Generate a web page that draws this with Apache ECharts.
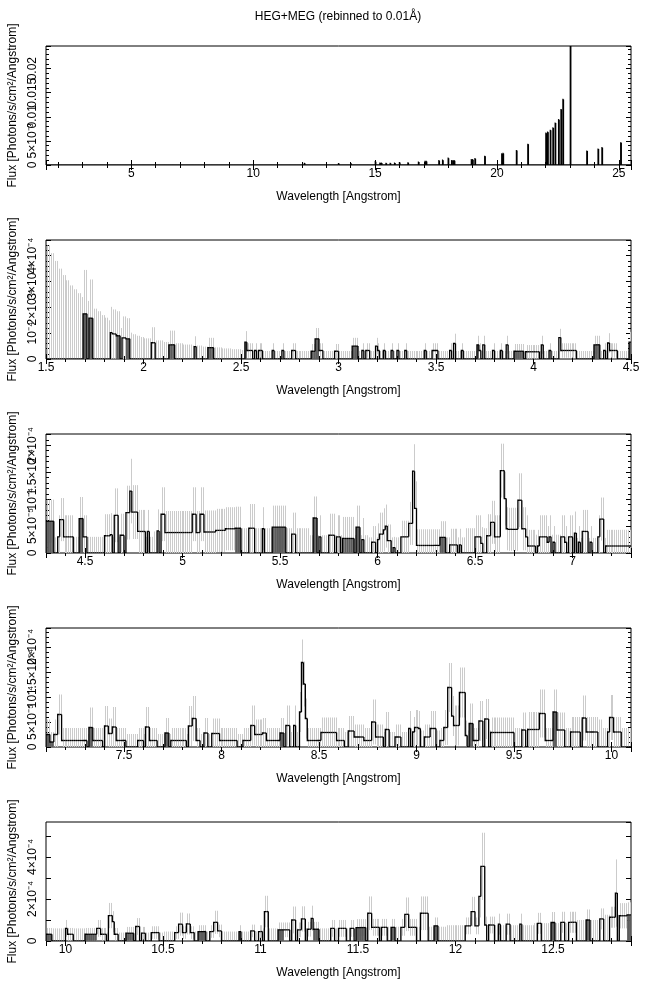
<!DOCTYPE html>
<html><head><meta charset="utf-8">
<script src="https://cdn.jsdelivr.net/npm/echarts@6/dist/echarts.min.js"></script>
<style>html,body{margin:0;padding:0;background:#fff}#c{width:650px;height:991px}</style>
</head><body><div id="c"></div>
<script>
const chartTitle = 'HEG+MEG (rebinned to 0.01\u00C5)';
const xTitle = 'Wavelength [Angstrom]';
const yTitle = 'Flux [Photons/s/cm\u00B2/Angstrom]';

// ---- Panel 1 (flux in units of 1e-3) : [binStart, binEnd, flux]
const p1Range = [1.5, 25.5];
const p1YMax = 24.7;
const p1YTicks = [0, 5, 10, 15, 20];
const p1YLabels = ['0', '5\u00D710\u207B\u00B3', '0.01', '0.015', '0.02'];
const p1Seg = [
 [12.10,12.11,0.35],[13.50,13.51,0.3],[14.00,14.01,0.3],[15.01,15.02,0.7],[15.20,15.21,0.4],
 [15.26,15.27,0.4],[15.45,15.46,0.35],[15.62,15.63,0.35],[15.80,15.81,0.4],[16.00,16.01,0.5],
 [16.35,16.36,0.45],[16.78,16.79,0.6],[17.05,17.06,0.75],[17.10,17.11,0.75],[17.62,17.63,0.9],
 [17.77,17.78,1.0],[18.00,18.01,1.4],[18.14,18.15,0.9],[18.20,18.21,0.9],[18.25,18.26,0.9],
 [18.95,18.96,1.1],[19.00,19.01,1.1],[19.10,19.11,1.3],[19.50,19.51,1.8],[20.20,20.21,2.3],
 [20.25,20.26,2.4],[20.80,20.81,3.0],[21.27,21.28,4.3],[22.01,22.02,6.6],[22.08,22.09,6.8],
 [22.19,22.20,7.2],[22.30,22.31,7.7],[22.39,22.40,8.7],[22.53,22.54,9.4],[22.63,22.64,11.5],
 [22.71,22.72,13.6],[23.01,23.02,24.7],[23.69,23.70,2.9],[24.15,24.16,3.3],[24.31,24.32,3.6],
 [25.08,25.09,4.6]
];

// ---- Panel 2 (flux in units of 1e-5) : [binStart, binEnd, flux, error, darkFill]
const p2Range = [1.5, 4.5];
const p2YMax = 46.1;
const p2YTicks = [0, 10, 20, 30, 40];
const p2YLabels = ['0', '10\u207B\u2074', '2\u00D710\u207B\u2074', '3\u00D710\u207B\u2074', '4\u00D710\u207B\u2074'];
const p2Seg = [
 [1.69,1.70,17.5,17,1],[1.72,1.73,15.8,15,1],[1.83,1.83,10.2,10,0],[1.84,1.85,9.7,9.5,0],
 [1.86,1.87,9.0,9.5,1],[1.89,1.90,8.2,8.3,0],[1.91,1.92,7.8,8,1],[2.04,2.05,6.3,6,0],
 [2.13,2.15,5.5,5.5,1],[2.26,2.26,4.8,4,0],[2.33,2.35,4.4,3.8,1],[2.52,2.52,6.5,4.3,1],
 [2.53,2.55,3.3,2.8,0],[2.57,2.57,3.3,2.8,0],[2.59,2.60,3.3,2.8,0],[2.66,2.66,3.3,2.8,0],
 [2.71,2.71,3.3,2.8,0],[2.76,2.77,3.3,2.8,0],[2.86,2.87,3.0,2.8,1],[2.88,2.89,7.8,4.2,1],
 [2.90,2.91,3.3,2.8,0],[2.98,2.99,3.0,2.8,0],[3.07,3.09,5.0,3.2,1],[3.12,3.12,3.3,2.8,0],
 [3.14,3.15,3.3,2.8,0],[3.19,3.19,5.0,3.2,0],[3.20,3.20,3.3,2.8,0],[3.23,3.23,3.3,2.8,0],
 [3.27,3.27,3.3,2.8,0],[3.30,3.30,3.3,2.8,0],[3.34,3.34,3.3,2.8,0],[3.44,3.44,3.3,2.8,0],
 [3.48,3.50,3.3,2.8,0],[3.57,3.57,3.3,2.8,0],[3.59,3.59,6.0,3.8,0],[3.63,3.63,3.3,2.8,0],
 [3.71,3.71,5.5,3.5,1],[3.72,3.72,3.3,2.8,0],[3.74,3.74,5.5,3.5,0],[3.79,3.79,3.3,2.8,0],
 [3.83,3.83,3.3,2.8,0],[3.86,3.86,5.5,3.5,0],[3.90,3.94,3.0,2.8,1],[3.96,4.02,2.8,2.6,0],
 [4.04,4.04,5.5,3.5,0],[4.08,4.08,3.3,2.8,0],[4.13,4.13,8.3,3.4,0],[4.14,4.21,3.3,2.8,0],
 [4.31,4.33,5.5,3.5,1],[4.36,4.36,3.3,2.8,0],[4.38,4.38,6.2,3.8,0],[4.39,4.42,3.3,2.8,0],
 [4.49,4.49,6.5,4,1]
];
// upper limits of empty bins : [from, to, level]
const p2Ul = [
 [1.50,1.52,44],[1.52,1.54,41],[1.54,1.56,38],[1.56,1.58,35],[1.58,1.60,32.5],[1.60,1.62,30.5],
 [1.62,1.64,28.5],[1.64,1.66,27],[1.66,1.68,25.5],[1.68,1.70,24],[1.70,1.72,22.5],[1.72,1.74,21],
 [1.74,1.76,19.5],[1.76,1.78,18.5],[1.78,1.80,17],[1.80,1.82,16],[1.82,1.84,15],[1.84,1.86,14],
 [1.86,1.88,13],[1.88,1.90,12],[1.90,1.92,11],[1.92,1.94,10.2],[1.94,1.96,9.6],[1.96,1.98,9.0],
 [1.98,2.00,8.5],[2.00,2.05,8.0],[2.05,2.10,7.2],[2.10,2.15,6.6],[2.15,2.20,6.1],[2.20,2.25,5.6],
 [2.25,2.30,5.2],[2.30,2.35,4.8],[2.35,2.40,4.5],[2.40,2.45,4.1],[2.45,2.50,3.8],[2.50,2.55,3.5],
 [2.55,4.50,3.1]
];

// ---- Panel 3 (1e-5)
const p3Range = [4.3, 7.3];
const p3YMax = 22.1;
const p3YTicks = [0, 5, 10, 15, 20];
const p3YLabels = ['0', '5\u00D710\u207B\u2075', '10\u207B\u2074', '1.5\u00D710\u207B\u2074', '2\u00D710\u207B\u2074'];
const p3Seg = [
 [4.30,4.33,5.9,4,1],[4.36,4.36,3.0,4,0],[4.37,4.38,6.2,4,0],[4.39,4.43,3.0,4,0],[4.47,4.48,6.4,4,1],
 [4.49,4.50,3.0,4,0],[4.60,4.62,3.2,4,0],[4.63,4.63,3.4,4,0],[4.65,4.66,7.0,5,0],[4.68,4.69,3.3,4,0],
 [4.71,4.72,7.5,5,0],[4.73,4.73,11.5,6,0],[4.74,4.76,7.6,5,0],[4.77,4.80,4.0,4,0],[4.82,4.82,4.0,4,0],
 [4.87,4.87,4.1,4,0],[4.89,4.90,7.2,5,0],[4.91,5.04,3.8,4,0],[5.05,5.06,7.2,5,0],[5.07,5.08,3.8,4,0],
 [5.09,5.10,7.2,5,0],[5.11,5.16,3.9,4,0],[5.17,5.21,4.2,4,0],[5.22,5.26,4.5,4,0],[5.27,5.29,4.6,4,1],
 [5.34,5.36,4.6,4.5,0],[5.41,5.41,4.5,4,0],[5.46,5.52,4.8,4,1],[5.56,5.57,3.5,4,0],[5.67,5.68,6.5,4,1],
 [5.70,5.70,3.0,4,0],[5.75,5.77,3.3,4,0],[5.79,5.80,3.0,4,0],[5.82,5.87,2.7,4,1],[5.89,5.90,4.8,4,1],
 [5.92,5.92,2.5,4,0],[5.97,5.98,2.0,3,0],[6.00,6.00,2.5,3,0],[6.01,6.02,3.5,4,0],[6.03,6.03,4.3,4,0],
 [6.04,6.04,5.0,4,0],[6.05,6.06,2.3,3,0],[6.08,6.08,1.0,2,0],[6.12,6.15,3.0,3,0],[6.16,6.17,5.5,4,0],
 [6.18,6.18,15.2,5,0],[6.19,6.19,8.3,5,0],[6.20,6.31,1.4,3,0],[6.32,6.34,2.9,3,1],[6.37,6.40,1.5,3,0],
 [6.42,6.42,1.5,3,0],[6.50,6.52,3.0,4,0],[6.53,6.53,1.8,3,0],[6.56,6.57,3.2,4,0],[6.58,6.59,5.7,4,0],
 [6.60,6.62,3.0,4,0],[6.63,6.64,15.3,5,0],[6.65,6.65,10.1,5,0],[6.66,6.66,4.5,4,0],[6.67,6.71,4.4,4,0],
 [6.72,6.73,9.8,5,0],[6.74,6.75,4.5,4,0],[6.76,6.76,3.0,4,0],[6.77,6.80,1.3,3,0],[6.82,6.82,1.3,3,0],
 [6.83,6.86,3.0,4,0],[6.87,6.87,2.0,3,0],[6.88,6.88,3.0,4,0],[6.90,6.90,2.0,3,0],[6.94,6.95,3.0,4,0],
 [6.96,6.96,2.0,3,0],[6.98,6.99,3.0,4,0],[7.01,7.01,3.7,4,0],[7.03,7.03,2.0,3,0],[7.05,7.07,4.0,4,0],
 [7.09,7.09,2.0,3,0],[7.13,7.13,3.0,4,0],[7.14,7.15,6.3,4,0],[7.17,7.29,1.3,3,0]
];
const p3Ul = [
 [4.30,4.45,2.9],[4.45,4.85,3.0],[4.85,5.00,4.0],[5.00,5.65,4.6],[5.65,5.95,3.3],
 [5.95,6.45,2.9],[6.45,6.60,4.6],[6.60,6.95,3.4],[6.95,7.30,2.8]
];

// ---- Panel 4 (1e-5)
const p4Range = [7.1, 10.1];
const p4YMax = 23.8;
const p4YTicks = [0, 5, 10, 15, 20];
const p4YLabels = ['0', '5\u00D710\u207B\u2075', '10\u207B\u2074', '1.5\u00D710\u207B\u2074', '2\u00D710\u207B\u2074'];
const p4Seg = [
 [7.10,7.11,2.5,3,1],[7.12,7.13,1.0,2,1],[7.14,7.15,2.5,3,0],[7.16,7.17,6.5,4,0],[7.18,7.30,1.3,2.5,0],
 [7.32,7.33,3.9,4,1],[7.34,7.38,1.3,2.5,0],[7.40,7.41,4.2,4,0],[7.42,7.43,2.7,3,0],[7.44,7.45,4.0,4,0],
 [7.46,7.50,1.3,2.5,0],[7.57,7.59,1.3,2.5,0],[7.61,7.62,4.0,4,0],[7.63,7.66,1.3,2.5,0],[7.71,7.72,2.8,3,1],
 [7.74,7.81,1.3,2.5,0],[7.83,7.84,4.2,4,0],[7.85,7.86,5.7,4.5,0],[7.87,7.88,1.3,2.5,0],[7.91,7.92,2.8,3,0],
 [7.95,7.98,2.7,3,0],[7.99,8.07,1.3,2.5,0],[8.11,8.14,1.3,2.5,0],[8.15,8.16,4.3,4,0],[8.17,8.20,2.5,3,0],
 [8.21,8.22,2.8,3,0],[8.23,8.29,1.3,2.5,0],[8.30,8.31,2.8,3,1],[8.33,8.34,4.3,4,0],[8.37,8.37,4.3,4,0],
 [8.40,8.40,7.0,4,0],[8.41,8.41,16.9,4.6,0],[8.42,8.42,12.6,4.5,0],[8.43,8.43,5.7,4,0],[8.44,8.50,1.3,2.5,0],
 [8.51,8.58,2.9,3,0],[8.59,8.62,1.3,2.5,0],[8.65,8.67,3.2,3,0],[8.68,8.72,2.0,2.5,0],[8.73,8.76,1.3,2.5,0],
 [8.77,8.78,5.0,4.5,0],[8.79,8.82,2.0,2.5,0],[8.84,8.85,3.5,3.5,0],[8.89,8.91,2.0,2.5,0],[8.96,8.96,3.7,3.5,0],
 [8.98,8.98,3.0,3,0],[8.99,9.00,3.9,3.5,0],[9.01,9.01,3.7,3.5,0],[9.04,9.06,2.0,2.5,0],[9.07,9.09,3.7,3.5,0],
 [9.12,9.13,1.3,2.5,0],[9.14,9.15,3.9,3.5,0],[9.16,9.17,11.9,4.9,0],[9.18,9.18,6.2,4,0],[9.19,9.21,4.3,4,0],
 [9.22,9.24,10.9,5,0],[9.25,9.25,2.3,3,0],[9.27,9.28,4.7,4,1],[9.29,9.31,1.3,2.5,0],[9.32,9.33,5.2,4,0],
 [9.35,9.36,5.6,4,0],[9.38,9.49,2.9,3,0],[9.54,9.55,3.4,3.5,0],[9.57,9.62,3.5,3.5,0],[9.63,9.65,6.7,4.8,0],
 [9.66,9.69,1.3,2.5,0],[9.70,9.71,7.0,4.5,1],[9.72,9.75,3.4,3.5,0],[9.79,9.83,3.0,3,0],[9.85,9.86,5.8,4.5,0],
 [9.87,9.92,3.0,3,0],[9.98,9.98,3.0,3,0],[9.99,10.00,5.9,4.5,0],[10.01,10.04,3.0,3,0]
];
const p4Ul = [
 [7.10,8.30,2.6],[8.30,9.00,3.0],[9.00,9.40,3.3],[9.40,9.80,3.8],[9.80,9.95,5.5],[9.95,10.10,3.8]
];

// ---- Panel 5 (1e-5)
const p5Range = [9.9, 12.9];
const p5YMax = 56.6;
const p5YTicks = [0, 20, 40];
const p5YLabels = ['0', '2\u00D710\u207B\u2074', '4\u00D710\u207B\u2074'];
const p5Seg = [
 [9.90,9.92,3.2,3,1],[10.00,10.00,6.0,4,0],[10.01,10.03,3.2,3,0],[10.10,10.15,3.2,3,1],[10.16,10.17,6.0,4,0],
 [10.18,10.20,3.2,3,0],[10.22,10.23,12.1,6,0],[10.24,10.24,9.2,5,0],[10.25,10.26,3.2,3,0],[10.31,10.34,3.7,3,1],
 [10.36,10.37,6.9,4,0],[10.39,10.40,3.7,3,0],[10.44,10.47,4.0,3,0],[10.56,10.57,4.0,3,0],[10.58,10.59,8.0,5.5,0],
 [10.60,10.61,4.0,3,0],[10.62,10.63,8.1,5,0],[10.64,10.65,4.0,3,0],[10.68,10.71,4.5,3,1],[10.74,10.75,4.5,3,0],
 [10.76,10.77,8.9,5.5,0],[10.78,10.79,4.8,3,0],[10.89,10.89,4.5,3,1],[10.95,10.96,4.8,3,0],[10.99,11.00,4.5,3,0],
 [11.02,11.03,14.0,7.5,0],[11.09,11.11,5.3,3.5,1],[11.12,11.14,5.3,3.5,0],[11.16,11.17,10.0,6.4,0],[11.19,11.20,5.3,3.5,0],
 [11.21,11.22,10.5,6,0],[11.24,11.25,5.6,3.5,0],[11.26,11.26,10.8,6,0],[11.27,11.29,5.6,3.5,1],[11.36,11.37,6.0,4,0],
 [11.40,11.43,6.0,4,0],[11.46,11.47,6.0,4,0],[11.49,11.53,6.4,4,1],[11.55,11.56,13.2,8,0],[11.57,11.60,6.5,4,0],
 [11.62,11.64,6.5,4,0],[11.67,11.68,6.5,4,1],[11.72,11.73,6.5,4,0],[11.74,11.75,12.7,8,0],[11.76,11.79,6.5,4,0],
 [11.82,11.85,13.2,8,0],[11.89,11.90,7.2,4,1],[12.05,12.07,7.2,4,0],[12.08,12.09,14.0,7,0],[12.10,12.11,7.2,4,0],
 [12.12,12.12,21.2,10,0],[12.13,12.14,35.5,16,0],[12.15,12.15,7.6,4,0],[12.17,12.19,7.6,4,0],[12.22,12.22,8.0,5,0],
 [12.26,12.27,8.0,5,0],[12.33,12.33,8.0,5,0],[12.42,12.43,8.4,5,0],[12.49,12.50,8.8,5,1],[12.54,12.55,8.9,5,0],
 [12.58,12.61,8.9,5,0],[12.67,12.68,10.0,5,1],[12.74,12.75,10.5,5,0],[12.79,12.81,11.3,5,0],[12.82,12.82,22.8,16,0],
 [12.84,12.87,12.0,6,0],[12.88,12.89,12.4,6,1]
];
const p5Ul = [
 [9.90,10.10,6.0],[10.10,10.50,4.0],[10.50,11.00,4.5],[11.00,11.50,6.0],[11.50,11.95,6.8],
 [11.95,12.40,7.5],[12.40,12.60,8.5],[12.60,12.75,10.0],[12.75,12.90,12.5]
];

// ---------------- build -----------------
const FONT = '"Liberation Sans", Arial, Helvetica, sans-serif';
const panels = [
 {range:p1Range, yMax:p1YMax, yInt:5,  yTicks:p1YTicks, yLabels:p1YLabels, xStep:5,   segs:p1Seg, ul:null, yMinor:true},
 {range:p2Range, yMax:p2YMax, yInt:10, yTicks:p2YTicks, yLabels:p2YLabels, xStep:0.5, segs:p2Seg, ul:p2Ul, yMinor:true},
 {range:p3Range, yMax:p3YMax, yInt:5,  yTicks:p3YTicks, yLabels:p3YLabels, xStep:0.5, segs:p3Seg, ul:p3Ul, yMinor:true},
 {range:p4Range, yMax:p4YMax, yInt:5,  yTicks:p4YTicks, yLabels:p4YLabels, xStep:0.5, segs:p4Seg, ul:p4Ul, yMinor:true},
 {range:p5Range, yMax:p5YMax, yInt:10, yTicks:p5YTicks, yLabels:p5YLabels, xStep:0.5, segs:p5Seg, ul:p5Ul, yMinor:false}
];
const tops = [46, 240, 434, 628, 822];

function build(p) {
  const i0 = Math.round(p.range[0] * 100), i1 = Math.round(p.range[1] * 100);
  const m = new Map();
  p.segs.forEach(s => {
    for (let i = Math.round(s[0] * 100); i <= Math.round(s[1] * 100); i++) m.set(i, s);
  });
  const ulAt = i => {
    if (!p.ul) return 0;
    for (const u of p.ul) if (i >= Math.round(u[0] * 100) && i < Math.round(u[1] * 100)) return u[2];
    return 0;
  };
  const bins = [], errs = [], dark = [];
  let prev = 0;
  for (let i = i0; i < i1; i++) {
    const s = m.get(i);
    const f = s ? s[2] : 0;
    const x0 = i / 100, x1 = (i + 1) / 100;
    bins.push([x0, x1, Math.min(f, p.yMax), Math.min(prev, p.yMax)]);
    prev = f;
    if (p.ul) {
      let lo, hi;
      if (s) { lo = Math.max(0, f - s[3]); hi = f + s[3]; }
      else { lo = 0; hi = ulAt(i); }
      if (hi > 0) errs.push([(x0 + x1) / 2, lo, Math.min(hi, p.yMax)]);
    }
    if (s && s[4]) dark.push([x0, x1, f]);
  }
  return {bins, errs, dark};
}

const grids = [], xAxes = [], yAxes = [], series = [];
panels.forEach((p, k) => {
  grids.push({left: 46, width: 585, top: tops[k], height: 119, show: true,
    borderColor: '#000', borderWidth: 1, backgroundColor: 'rgba(0,0,0,0)',
    containLabel: false, outerBoundsMode: 'none'});
  const xc = {gridIndex: k, type: 'value', min: p.range[0], max: p.range[1],
    minInterval: p.xStep, maxInterval: p.xStep, splitNumber: 5,
    splitLine: {show: false}, axisLine: {show: false},
    axisTick: {show: true, inside: true, length: 5, lineStyle: {color: '#000', width: 1}},
    minorTick: {show: true, splitNumber: 5, length: 3, lineStyle: {color: '#000', width: 1}},
    minorSplitLine: {show: false}};
  xAxes.push(Object.assign({}, xc, {position: 'bottom',
    axisLabel: {show: true, color: '#000', fontSize: 12, fontFamily: FONT, margin: 3,
      formatter: v => Math.abs(v / p.xStep - Math.round(v / p.xStep)) < 1e-6 ? String(+v.toFixed(2)) : ''},
    name: xTitle, nameLocation: 'middle', nameGap: 26,
    nameTextStyle: {color: '#000', fontSize: 12, fontFamily: FONT}}));
  xAxes.push(Object.assign({}, xc, {position: 'top', axisLabel: {show: false}}));
  const yc = {gridIndex: k, type: 'value', min: 0, max: p.yMax, interval: p.yInt,
    splitLine: {show: false}, axisLine: {show: false},
    axisTick: {show: true, inside: true, length: 5, lineStyle: {color: '#000', width: 1}},
    minorTick: {show: p.yMinor, splitNumber: 5, length: 3, lineStyle: {color: '#000', width: 1}},
    minorSplitLine: {show: false}};
  yAxes.push(Object.assign({}, yc, {position: 'left',
    axisLabel: {show: true, rotate: 90, color: '#000', fontSize: 12, fontFamily: FONT, margin: 7,
      showMaxLabel: false,
      formatter: v => { const j = p.yTicks.findIndex(t => Math.abs(t - v) < 1e-6); return j >= 0 ? p.yLabels[j] : ''; }},
    name: yTitle, nameLocation: 'middle', nameGap: 21,
    nameTextStyle: {color: '#000', fontSize: 12, fontFamily: FONT}}));
  yAxes.push(Object.assign({}, yc, {position: 'right', axisLabel: {show: false}}));

  const d = build(p);
  const xi = 2 * k, yi = 2 * k;
  if (d.errs.length) series.push({type: 'custom', xAxisIndex: xi, yAxisIndex: yi, clip: true, silent: true,
    animation: false, data: d.errs, encode: {x: 0, y: [1, 2]},
    renderItem: (params, api) => {
      const a = api.coord([api.value(0), api.value(1)]);
      const b = api.coord([api.value(0), api.value(2)]);
      const x = Math.round(a[0]) + 0.5;
      return {type: 'line', shape: {x1: x, y1: a[1], x2: x, y2: b[1]},
        style: {stroke: '#cbcbcb', lineWidth: 1}};
    }});
  if (d.dark.length) series.push({type: 'custom', xAxisIndex: xi, yAxisIndex: yi, clip: true, silent: true,
    animation: false, data: d.dark, encode: {x: [0, 1], y: 2},
    renderItem: (params, api) => {
      const a = api.coord([api.value(0), 0]);
      const b = api.coord([api.value(1), api.value(2)]);
      return {type: 'rect', shape: {x: a[0], y: b[1], width: b[0] - a[0], height: a[1] - b[1]},
        style: {fill: '#5c5c5c'}};
    }});
  // histogram: each bin draws its left edge (from previous level) and its top
  series.push({type: 'custom', xAxisIndex: xi, yAxisIndex: yi, clip: true, silent: true,
    animation: false, data: d.bins, encode: {x: [0, 1], y: [2, 3]},
    renderItem: (params, api) => {
      const a = api.coord([api.value(0), api.value(3)]);
      const b = api.coord([api.value(0), api.value(2)]);
      const c = api.coord([api.value(1), api.value(2)]);
      return {type: 'polyline', shape: {points: [a, b, c]},
        style: {stroke: '#000', lineWidth: 1.3, fill: null}};
    }});
});

const chart = echarts.init(document.getElementById('c'), null, {renderer: 'canvas'});
chart.setOption({
  backgroundColor: '#fff',
  animation: false,
  graphic: [{type: 'text', x: 338, y: 11,
    style: {text: chartTitle, fill: '#000', font: '12px ' + FONT, align: 'center', textAlign: 'center'}}],
  grid: grids, xAxis: xAxes, yAxis: yAxes, series: series
});
</script></body></html>
